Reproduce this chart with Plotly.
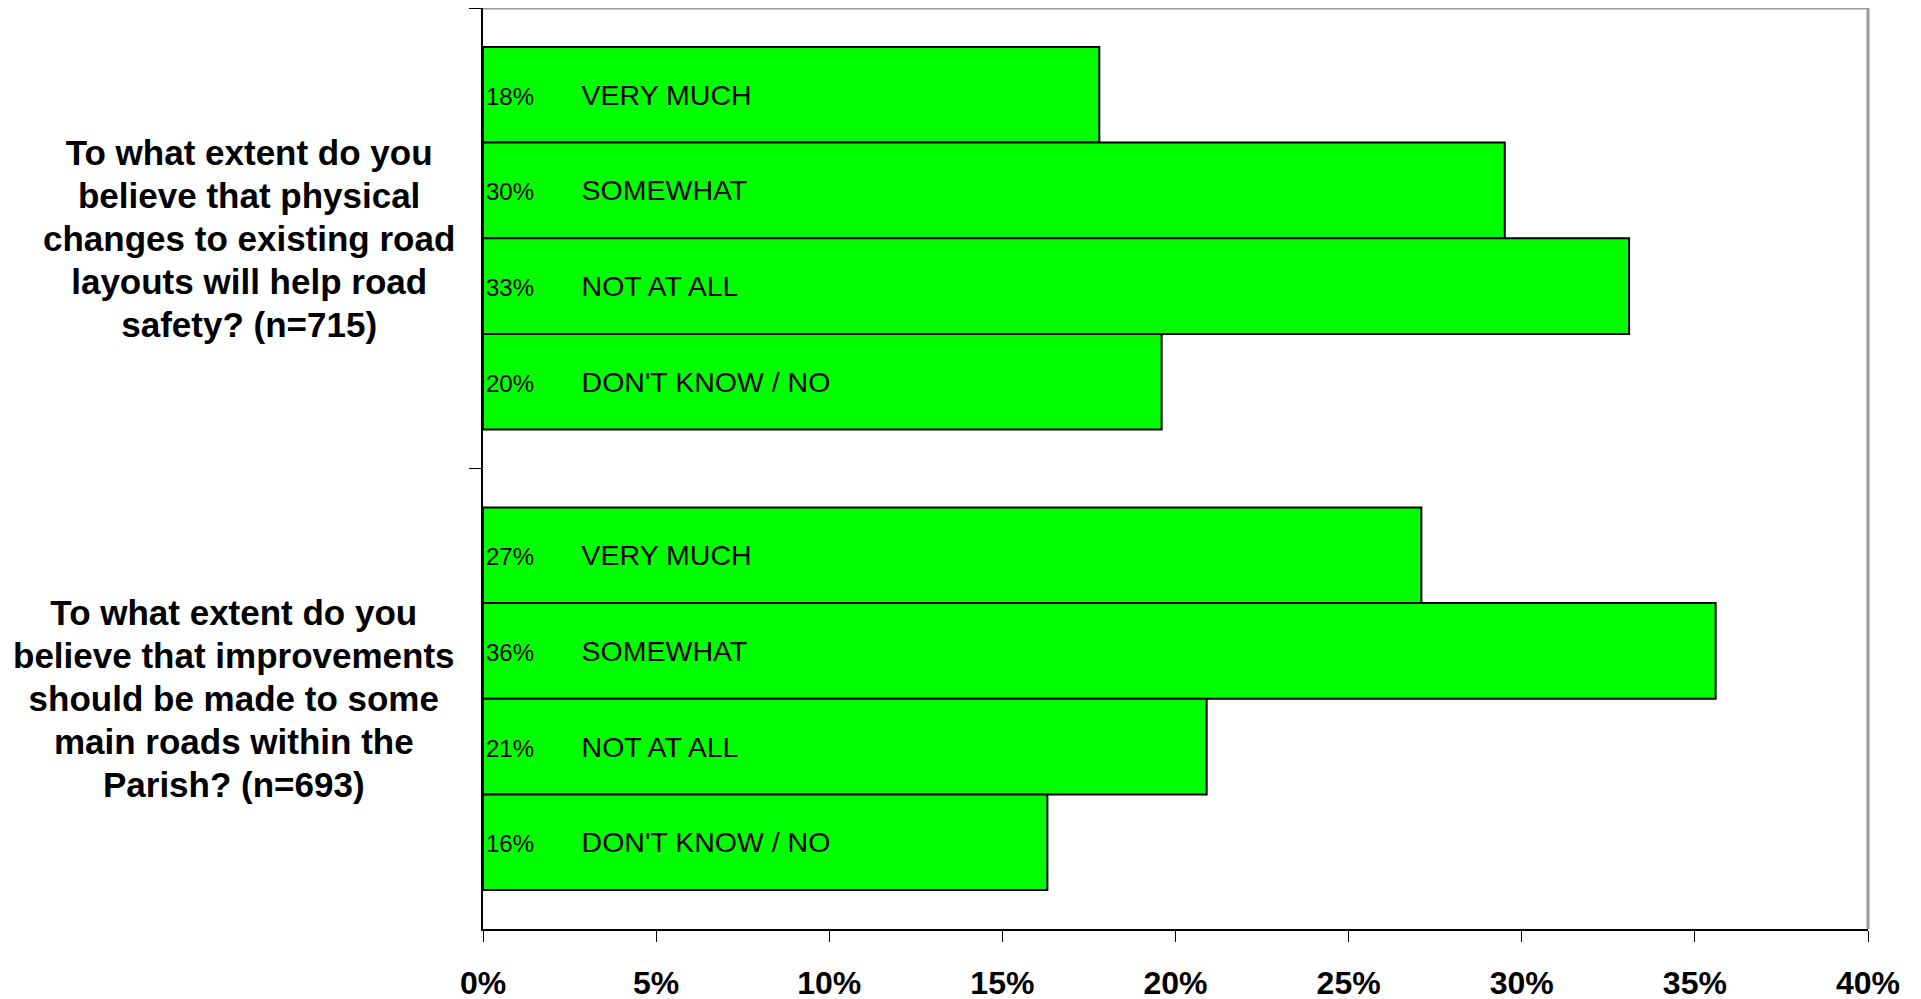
import plotly.graph_objects as go

question_lines = [
    ["To what extent do you", "believe that physical", "changes to existing road",
     "layouts will help road", "safety? (n=715)"],
    ["To what extent do you", "believe that improvements", "should be made to some",
     "main roads within the", "Parish? (n=693)"],
]
questions = ["<br>".join(lines) for lines in question_lines]
responses = ["VERY MUCH", "SOMEWHAT", "NOT AT ALL", "DON'T KNOW / NO"]
q1_values = [17.8, 29.51, 33.1, 19.6]
q2_values = [27.1, 35.6, 20.9, 16.3]
x_ticks = [0, 5, 10, 15, 20, 25, 30, 35, 40]

REG = "Liberation Sans, Arial, sans-serif"
NB = "\u00a0"

fig = go.Figure()
for i, resp in enumerate(responses):
    vals = [q1_values[i], q2_values[i]]
    texts = [
        f"<span style='font-size:24px'>{v:.0f}%</span>" + NB * 6 + resp
        for v in vals
    ]
    fig.add_trace(go.Bar(
        y=questions,
        x=vals,
        orientation="h",
        name=resp,
        marker=dict(color="#00FF00", line=dict(color="#000000", width=2)),
        text=texts,
        textposition="inside",
        insidetextanchor="start",
        constraintext="none",
        textangle=0,
        textfont=dict(family=REG, size=28.5, color="#000000"),
        hoverinfo="x+name",
    ))

for q, lines in zip(questions, question_lines):
    fig.add_annotation(
        x=0, xref="paper", xanchor="right", xshift=-26,
        y=q, yref="y", yanchor="middle",
        text="<br>".join(f"<span style='font-size:35px'><b>{ln}</b></span>" for ln in lines),
        showarrow=False, align="center",
        font=dict(family=REG, size=33, color="#000000"),
    )

# grey plot-area border on top and right
fig.add_shape(type="line", xref="paper", yref="paper", x0=0, x1=1, y0=1, y1=1,
              line=dict(color="#999999", width=3))
fig.add_shape(type="line", xref="paper", yref="paper", x0=1, x1=1, y0=0, y1=1,
              line=dict(color="#999999", width=3))

fig.update_layout(
    width=1921, height=999,
    margin=dict(l=475, r=61, t=0, b=78),
    paper_bgcolor="white", plot_bgcolor="white",
    barmode="group", bargap=0.169, bargroupgap=0,
    showlegend=False,
    xaxis=dict(
        range=[0, 40], tickvals=x_ticks, ticktext=[f"{t}%" for t in x_ticks],
        showgrid=False, zeroline=False,
        showline=True, linecolor="#000000", linewidth=1.5,
        ticks="outside", ticklen=11, tickwidth=1, tickcolor="#000000",
        tickfont=dict(family=REG, size=32, color="#000000", weight="bold"),
        ticklabelstandoff=14,
    ),
    yaxis=dict(
        autorange="reversed", showgrid=False, zeroline=False,
        showline=True, linecolor="#000000", linewidth=1.5,
        ticks="outside", ticklen=12, tickwidth=1, tickcolor="#000000",
        tickson="boundaries", showticklabels=False,
    ),
)

fig.write_html("out.html")
